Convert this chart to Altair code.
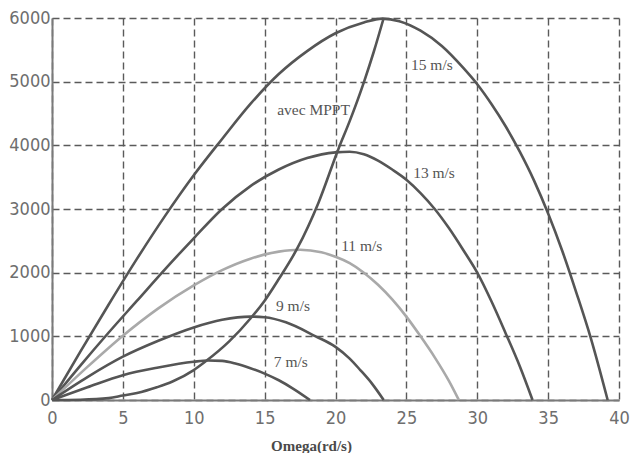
import altair as alt
import pandas as pd

# --- data ---
w15 = [0, 2, 4, 6, 8, 10, 12, 14, 16, 18, 20, 22, 23.3, 24.5, 26, 27.5, 29, 30, 31, 32, 33, 34, 35, 36, 37, 38, 39.2]
p15 = [0, 760, 1500, 2220, 2900, 3530, 4100, 4650, 5120, 5480, 5760, 5930, 5990, 5950, 5800, 5560, 5220, 4960, 4650, 4300, 3900, 3450, 2930, 2340, 1680, 980, 0]

w13 = [0, 2, 4, 6, 8, 10, 12, 14, 16, 18, 20, 21, 22, 23, 24, 25, 26, 27, 28, 29, 30, 31, 32, 33, 33.9]
p13 = [0, 540, 1060, 1560, 2060, 2540, 3000, 3360, 3620, 3800, 3890, 3900, 3860, 3760, 3620, 3460, 3250, 3000, 2700, 2360, 2000, 1550, 1050, 530, 0]

w11 = [0, 2.5, 5, 7.5, 10, 12, 14, 16, 17.5, 19, 20, 21, 22, 23, 24, 25, 26, 27, 28, 28.7]
p11 = [0, 520, 1010, 1440, 1800, 2040, 2220, 2330, 2360, 2320, 2250, 2150, 2000, 1810, 1580, 1310, 1000, 670, 300, 0]

w9 = [0, 2.5, 5, 7.5, 10, 12, 14, 15, 16.5, 18.6, 20, 21, 21.75, 22.6, 23.4]
p9 = [0, 360, 680, 930, 1140, 1260, 1310, 1300, 1220, 1000, 835, 650, 470, 250, 0]

w7 = [0, 2.5, 5, 7.5, 10, 11, 12, 13, 14, 15, 16, 17, 18.2]
p7 = [0, 200, 390, 510, 600, 620, 615, 570, 500, 415, 310, 180, 0]

wmppt = [0, 2, 4, 5, 6, 7.4, 8.5, 10, 10.8, 12.5, 14, 15, 16, 17.3, 18.8, 20.2, 21, 22, 22.7, 23.4]
pmppt = [0, 5, 30, 70, 110, 200, 290, 470, 600, 920, 1280, 1560, 1900, 2380, 3100, 3940, 4380, 4990, 5470, 6000]

series_names = ["15 m/s", "13 m/s", "11 m/s", "9 m/s", "7 m/s", "MPPT"]
series_colors = ["#555555", "#555555", "#a9a9a9", "#555555", "#555555", "#555555"]

label_text = ["15 m/s", "13 m/s", "11 m/s", "9 m/s", "7 m/s", "avec MPPT"]
label_x = [26.8, 26.95, 21.85, 17.0, 16.85, 18.45]
label_y = [5260, 3560, 2420, 1470, 590, 4560]

x_ticks = [0, 5, 10, 15, 20, 25, 30, 35, 40]
y_ticks = [0, 1000, 2000, 3000, 4000, 5000, 6000]

rows = []
for name, ws, ps in zip(series_names, [w15, w13, w11, w9, w7, wmppt], [p15, p13, p11, p9, p7, pmppt]):
    for i, (a, b) in enumerate(zip(ws, ps)):
        rows.append({"serie": name, "omega": a, "p": b, "i": i})
df = pd.DataFrame(rows)
labels = pd.DataFrame({"t": label_text, "x": label_x, "y": label_y})

xs = alt.Scale(domain=[0, 40], nice=False, zero=False)
ys = alt.Scale(domain=[0, 6000], nice=False)

tick_font = "Liberation Sans Narrow, DejaVu Sans Condensed, Roboto Condensed, Arial Narrow, Roboto, sans-serif"

lines = alt.Chart(df).mark_line(strokeWidth=2.6, interpolate="monotone").encode(
    x=alt.X("omega:Q", scale=xs, axis=alt.Axis(
        values=x_ticks, format="d", title="Omega(rd/s)", grid=True, gridDash=[7, 4], gridColor="#5a5a5a",
        gridWidth=1.4, gridOpacity=1, domainColor="#7a7a7a", domainWidth=2, ticks=False,
        labelFont=tick_font, labelFontSize=18, labelColor="#6e6e6e",
        labelPadding=9, labelFlush=False,
        titleFont="Liberation Serif", titleFontSize=15, titleFontWeight="bold", titleColor="#4a4a4a",
        titleX=259, titleY=50, titleBaseline="alphabetic", titleAnchor="start", titleAlign="center")),
    y=alt.Y("p:Q", scale=ys, axis=alt.Axis(
        values=y_ticks, format="d", title=None, grid=True, gridDash=[7, 4], gridColor="#5a5a5a",
        gridWidth=1.4, gridOpacity=1, domainColor="#7a7a7a", domainWidth=2, ticks=False,
        labelFont=tick_font, labelFontSize=18, labelColor="#6e6e6e",
        labelPadding=2, labelFlush=False)),
    color=alt.Color("serie:N", scale=alt.Scale(domain=series_names, range=series_colors), legend=None),
    detail="serie:N",
    order="i:Q",
)

texts = alt.Chart(labels).mark_text(font="Liberation Serif", fontSize=15.5, color="#555555",
                                     align="center", baseline="middle").encode(
    x=alt.X("x:Q", scale=xs),
    y=alt.Y("y:Q", scale=ys),
    text="t:N",
)

chart = alt.layer(lines, texts).properties(
    width=567, height=382,
    autosize=alt.AutoSizeParams(type="none"),
    padding={"left": 44, "top": 10, "right": 16, "bottom": 53},
    background="white",
).configure_view(stroke="transparent")

chart.save("out.html", embed_options={"renderer": "svg", "actions": False})
